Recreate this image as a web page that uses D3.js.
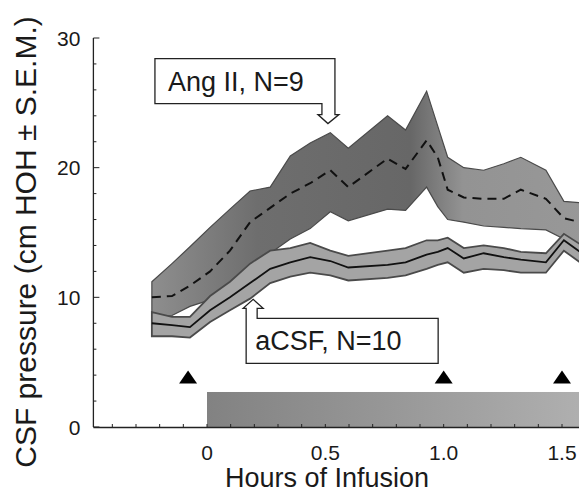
<html>
<head>
    <meta charset="utf-8">
    <title>CSF pressure</title>
</head>
<style>
    body { margin: 0; background: #fff; }
    text { font-family: Arial, "Liberation Sans", sans-serif; fill: #1a1a1a; }
</style>
<body>
<svg width="579" height="499"></svg>
<script src="https://d3js.org/d3.v7.min.js" charset="utf-8"></script>
<script>

    // time points (hours of infusion)
    var hours = [-0.233, -0.148, -0.072, 0.013, 0.097, 0.182, 0.267, 0.352, 0.436, 0.521, 0.597, 0.763,
        0.839, 0.928, 0.975, 1.017, 1.085, 1.169, 1.254, 1.326, 1.432, 1.508, 1.576];

    // Ang II group: mean and mean +/- SEM
    var angMean  = [10.0, 10.1, 10.9, 12.0, 13.6, 15.8, 16.9, 18.0, 18.8, 19.8, 18.5, 20.7,
        19.9, 22.1, 20.8, 18.3, 17.7, 17.6, 17.6, 18.3, 17.6, 16.1, 15.8];
    var angUpper = [11.2, 12.6, 13.9, 15.4, 16.8, 18.2, 18.5, 20.9, 21.9, 22.7, 21.5, 24.0,
        22.9, 25.9, 23.2, 20.8, 20.0, 19.8, 20.3, 20.8, 19.8, 17.4, 17.3];
    var angLower = [8.4, 8.6, 9.3, 9.8, 10.5, 11.5, 13.4, 14.5, 15.3, 16.6, 15.9, 16.8,
        16.7, 18.5, 17.0, 16.0, 15.8, 15.5, 15.4, 15.3, 15.2, 14.5, 13.8];

    // aCSF group
    var csfMean  = [8.0, 7.85, 7.7, 9.0, 10.0, 11.1, 12.2, 12.7, 13.1, 12.8, 12.3, 12.5,
        12.7, 13.3, 13.5, 13.8, 13.0, 13.4, 13.1, 12.9, 12.7, 14.4, 13.5];
    var csfUpper = [8.85, 8.5, 8.5, 10.1, 11.2, 12.6, 13.6, 13.8, 14.2, 13.6, 13.2, 13.6,
        13.8, 14.4, 14.4, 14.6, 13.8, 14.0, 13.8, 13.5, 13.4, 14.9, 14.1];
    var csfLower = [7.0, 7.0, 6.9, 8.1, 9.0, 9.9, 11.1, 11.6, 11.9, 11.7, 11.3, 11.5,
        11.7, 12.2, 12.5, 12.7, 11.9, 12.2, 12.1, 11.9, 11.9, 13.6, 12.7];

    var xTickValues = [0, 0.5, 1.0, 1.5];
    var xTickLabels = ["0", "0.5", "1.0", "1.5"];
    var yTickValues = [0, 10, 20, 30];
    var yTickLabels = ["0", "10", "20", "30"];

    var markerHours = [-0.08, 1.0, 1.5];   // black triangles
    var markerValue = 3.9;
    var infusion = [0, 1.6];               // infusion bar (hours)
    var infusionHeight = 2.7;

    var svg = d3.select('svg');
    var x = d3.scaleLinear().domain([0, 1.5]).range([207, 562]);
    var y = d3.scaleLinear().domain([0, 30]).range([427, 38]);
    var xMin = -0.48;

    var angData = hours.map(function (h, i) {
        return {h: h, m: angMean[i], hi: angUpper[i], lo: angLower[i]};
    });
    var csfData = hours.map(function (h, i) {
        return {h: h, m: csfMean[i], hi: csfUpper[i], lo: csfLower[i]};
    });

    var defs = svg.append('defs');
    var g1 = defs.append('linearGradient').attr('id', 'angFill')
        .attr('gradientUnits', 'userSpaceOnUse')
        .attr('x1', x(-0.25)).attr('x2', x(1.6)).attr('y1', 0).attr('y2', 0);
    [[0, '#8f8f8f'], [0.25, '#6e6e6e'], [0.6, '#676767'], [0.72, '#939393'], [1, '#989898']].forEach(function (s) {
        g1.append('stop').attr('offset', s[0]).attr('stop-color', s[1]);
    });
    var g2 = defs.append('linearGradient').attr('id', 'barFill')
        .attr('x1', 0).attr('x2', 1).attr('y1', 0).attr('y2', 0);
    [[0, '#828282'], [0.5, '#989898'], [1, '#b0b0b0']].forEach(function (s) {
        g2.append('stop').attr('offset', s[0]).attr('stop-color', s[1]);
    });

    var band = d3.area()
        .x(function (d) { return x(d.h); })
        .y0(function (d) { return y(d.lo); })
        .y1(function (d) { return y(d.hi); });
    var line = d3.line()
        .x(function (d) { return x(d.h); })
        .y(function (d) { return y(d.m); });

    // infusion bar
    svg.append('rect')
        .attr('x', x(infusion[0]))
        .attr('y', y(infusionHeight))
        .attr('width', x(infusion[1]) - x(infusion[0]))
        .attr('height', y(0) - y(infusionHeight))
        .attr('fill', 'url(#barFill)');

    svg.append('path').datum(angData)
        .attr('d', band)
        .attr('fill', 'url(#angFill)')
        .attr('stroke', '#4a4a4a')
        .attr('stroke-width', 1.2);

    svg.append('path').datum(csfData)
        .attr('d', band)
        .attr('fill', '#a4a4a4')
        .attr('stroke', '#4a4a4a')
        .attr('stroke-width', 1.8);

    svg.append('path').datum(angData)
        .attr('d', line)
        .attr('fill', 'none')
        .attr('stroke', '#111')
        .attr('stroke-width', 2)
        .attr('stroke-dasharray', '9,6');

    svg.append('path').datum(csfData)
        .attr('d', line)
        .attr('fill', 'none')
        .attr('stroke', '#111')
        .attr('stroke-width', 1.8);

    // triangles
    svg.selectAll('.marker').data(markerHours).enter().append('path')
        .attr('class', 'marker')
        .attr('d', function (h) {
            var cx = x(h), cy = y(markerValue);
            return 'M' + (cx - 9) + ',' + (cy + 7) + 'L' + cx + ',' + (cy - 6) + 'L' + (cx + 9) + ',' + (cy + 7) + 'Z';
        })
        .attr('fill', '#000');

    // axes
    svg.append('line')
        .attr('x1', x(xMin)).attr('x2', 579)
        .attr('y1', y(0) + 0.5).attr('y2', y(0) + 0.5)
        .attr('stroke', '#222').attr('stroke-width', 1.3);
    svg.append('line')
        .attr('x1', x(xMin)).attr('x2', x(xMin))
        .attr('y1', y(0)).attr('y2', y(30))
        .attr('stroke', '#222').attr('stroke-width', 1.3);

    var xMinor = d3.range(-4, 16).map(function (k) { return k / 10; });
    svg.append('g').selectAll('line').data(xMinor).enter().append('line')
        .attr('x1', function (d) { return x(d); }).attr('x2', function (d) { return x(d); })
        .attr('y1', y(0)).attr('y2', y(0) - 3)
        .attr('stroke', '#222');
    var yMinor = d3.range(0, 31, 2);
    svg.append('g').selectAll('line').data(yMinor).enter().append('line')
        .attr('x1', x(xMin)).attr('x2', function (d) { return x(xMin) + (d % 10 === 0 ? 6 : 3); })
        .attr('y1', function (d) { return y(d); }).attr('y2', function (d) { return y(d); })
        .attr('stroke', '#222');

    svg.append('g').selectAll('text').data(xTickValues).enter().append('text')
        .attr('x', function (d) { return x(d); })
        .attr('y', 460)
        .attr('text-anchor', 'middle')
        .attr('font-size', '21px')
        .text(function (d, i) { return xTickLabels[i]; });
    svg.append('g').selectAll('text').data(yTickValues).enter().append('text')
        .attr('x', x(xMin) - 13)
        .attr('y', function (d) { return y(d); })
        .attr('dy', '0.36em')
        .attr('text-anchor', 'end')
        .attr('font-size', '21px')
        .text(function (d, i) { return yTickLabels[i]; });

    svg.append('text')
        .attr('x', 327).attr('y', 487)
        .attr('text-anchor', 'middle')
        .attr('font-size', '27px')
        .text('Hours of Infusion');
    svg.append('text')
        .attr('transform', 'translate(36,242) rotate(-90)')
        .attr('text-anchor', 'middle')
        .attr('font-size', '30px')
        .text('CSF pressure (cm HOH \u00b1 S.E.M.)');

    // Ang II callout, arrow pointing down at the peak
    var tipA = [x(0.511), y(23.4)];
    var ax = tipA[0], ay = tipA[1];
    svg.append('path')
        .attr('d', 'M' + (ax - 173) + ',' + (ay - 65) + 'H' + (ax + 7) + 'V' + (ay - 9) + 'H' + (ax + 11) +
            'L' + ax + ',' + ay + 'L' + (ax - 10) + ',' + (ay - 9) + 'H' + (ax - 6) + 'V' + (ay - 20) +
            'H' + (ax - 173) + 'Z')
        .attr('fill', '#fff').attr('stroke', '#222').attr('stroke-width', 1.3);
    svg.append('text')
        .attr('x', ax - 160).attr('y', ay - 33)
        .attr('font-size', '27px')
        .text('Ang II, N=9');

    // aCSF callout, arrow pointing up
    var tipC = [x(0.195), y(9.85)];
    var cx = tipC[0], cy = tipC[1];
    svg.append('path')
        .attr('d', 'M' + (cx - 7) + ',' + (cy + 19) + 'V' + (cy + 9) + 'H' + (cx - 10) + 'L' + cx + ',' + cy +
            'L' + (cx + 10) + ',' + (cy + 9) + 'H' + (cx + 4) + 'V' + (cy + 19) + 'H' + (cx + 185) +
            'V' + (cy + 64) + 'H' + (cx - 7) + 'Z')
        .attr('fill', '#fff').attr('stroke', '#222').attr('stroke-width', 1.3);
    svg.append('text')
        .attr('x', cx + 2).attr('y', cy + 51)
        .attr('font-size', '27px')
        .text('aCSF, N=10');

</script>
</body>
</html>
